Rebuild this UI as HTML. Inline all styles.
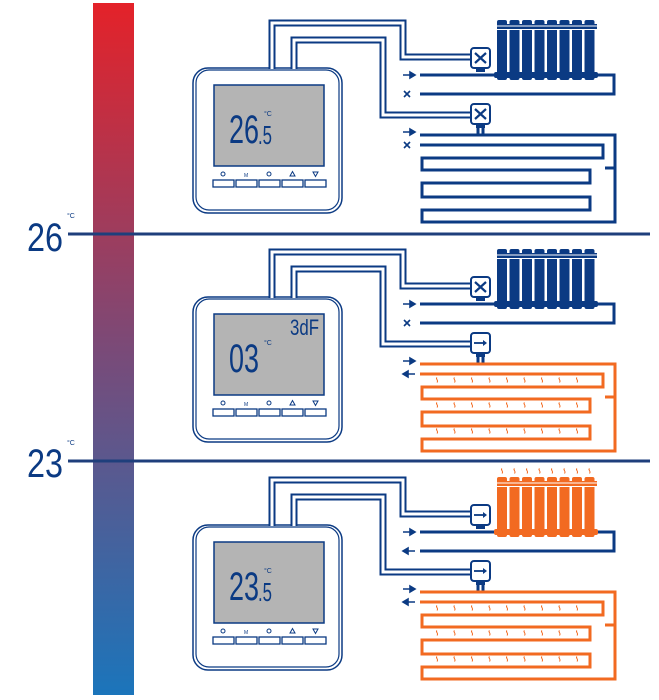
<!DOCTYPE html>
<html><head><meta charset="utf-8"><style>
html,body{margin:0;padding:0;background:#fff;}
svg{display:block;}
text{font-family:"Liberation Sans",sans-serif;}
</style></head><body>
<svg width="659" height="700" viewBox="0 0 659 700" xmlns="http://www.w3.org/2000/svg">
<defs>
<linearGradient id="bar" x1="0" y1="0" x2="0" y2="1">
<stop offset="0" stop-color="#e42229"/>
<stop offset="0.5" stop-color="#7a4a78"/>
<stop offset="1" stop-color="#1b75bb"/>
</linearGradient>
<g id="shell">
<rect x="193" y="68" width="149" height="145" rx="15" fill="#fff" stroke="#0b3a83" stroke-width="1.5"/>
<rect x="196" y="70" width="143" height="140" rx="13" fill="none" stroke="#0b3a83" stroke-width="1.2"/>
<rect x="214" y="85" width="110" height="81" fill="#b4b4b4" stroke="#0b3a83" stroke-width="1.5"/>
<g fill="#fff" stroke="#0b3a83" stroke-width="1.3">
<rect x="213" y="180" width="21" height="7"/><rect x="236" y="180" width="21" height="7"/><rect x="259" y="180" width="21" height="7"/><rect x="282" y="180" width="21" height="7"/><rect x="305" y="180" width="21" height="7"/>
</g>
<g fill="none" stroke="#0b3a83" stroke-width="1">
<circle cx="223" cy="174" r="2"/><circle cx="269" cy="174" r="2"/>
<path d="M290,176 L292.5,171.5 L295,176 Z"/><path d="M313,172 L315.5,176.5 L318,172 Z"/>
</g>
<text x="244" y="177" font-size="5" fill="#0b3a83">M</text>
<path d="M272,69 V23 H403 V57 H471 M294,69 V40 H383 V115 H471" fill="none" stroke="#0b3a83" stroke-width="7"/>
<path d="M272,69 V23 H403 V57 H471 M294,69 V40 H383 V115 H471" fill="none" stroke="#fff" stroke-width="3"/>
</g>
<g id="radfins">
<path d="M497,24 H597 V30 H497 Z"/>
<g>
<rect x="497" y="20" width="10" height="60" rx="2"/><rect x="509.5" y="20" width="10" height="60" rx="2"/><rect x="522" y="20" width="10" height="60" rx="2"/><rect x="534.5" y="20" width="10" height="60" rx="2"/><rect x="547" y="20" width="10" height="60" rx="2"/><rect x="559.5" y="20" width="10" height="60" rx="2"/><rect x="572" y="20" width="10" height="60" rx="2"/><rect x="584.5" y="20" width="10" height="60" rx="2"/>
<rect x="494" y="72" width="104" height="6" rx="2"/>
</g>
</g>
<g id="radlines"><path d="M495,26 H599 M495,29.5 H599" stroke="#fff" stroke-width="1"/></g>
<g id="valveX">
<rect x="476" y="67" width="9" height="5" fill="#0b3a83"/>
<rect x="471" y="48" width="19" height="20" rx="3" fill="#fff" stroke="#0b3a83" stroke-width="2"/>
<path d="M475,53 L486,63 M486,53 L475,63" stroke="#0b3a83" stroke-width="2.2"/>
</g>
<g id="valveA">
<rect x="476" y="67" width="9" height="5" fill="#0b3a83"/>
<rect x="471" y="48" width="19" height="20" rx="3" fill="#fff" stroke="#0b3a83" stroke-width="2"/>
<path d="M474,58 H485" stroke="#0b3a83" stroke-width="1.8"/><path d="M483,55 L487,58 L483,61 Z" fill="#0b3a83"/>
</g>
<path id="floorpath" d="M420,135 H615 V168 M420,145 H603 V158 H422 V170 H590 V183 H422 V197 H590 V210 H422 V222 H615 V168 H605" fill="none" stroke-width="3"/>
<path id="sq" d="M437,148.5 c-2,1.5 2,2.5 0,5" fill="none" stroke="#f26a21" stroke-width="1"/>
<path id="rarr" d="M403,75 H412 M410,72 L415,75 L410,78 Z" stroke="#0b3a83" stroke-width="1.6" fill="#0b3a83"/>
<g id="sqrows">
<use href="#sq"/><use href="#sq" x="17.5"/><use href="#sq" x="35"/><use href="#sq" x="52.5"/><use href="#sq" x="70"/><use href="#sq" x="87.5"/><use href="#sq" x="105"/><use href="#sq" x="122.5"/><use href="#sq" x="140"/>
</g>
</defs>

<rect x="93" y="3" width="41" height="692" fill="url(#bar)"/>
<path d="M68,234 H650 M68,461 H650" stroke="#1f3f7c" stroke-width="3"/>
<text x="27" y="251" font-size="40" fill="#0b3a83" textLength="36" lengthAdjust="spacingAndGlyphs">26</text>
<text x="67" y="218" font-size="7" fill="#0b3a83">°C</text>
<text x="27" y="477" font-size="40" fill="#0b3a83" textLength="36" lengthAdjust="spacingAndGlyphs">23</text>
<text x="67" y="445" font-size="7" fill="#0b3a83">°C</text>

<!-- SECTION 1 -->
<g>
<use href="#shell"/>
<text x="229" y="143" font-size="40" fill="#0b3a83" textLength="30" lengthAdjust="spacingAndGlyphs">26</text>
<text x="258" y="144" font-size="26" fill="#0b3a83" textLength="14" lengthAdjust="spacingAndGlyphs">.5</text>
<text x="264" y="116" font-size="7" fill="#0b3a83">°C</text>
<g fill="#0b3a83"><use href="#radfins"/></g><use href="#radlines"/>
<path d="M420,75 H497 M420,94 H614 V75 H597" fill="none" stroke="#0b3a83" stroke-width="3"/>
<use href="#valveX"/>
<use href="#valveX" y="56"/>
<path d="M478,128 V135 M483,128 V135" stroke="#0b3a83" stroke-width="3"/>
<use href="#floorpath" stroke="#0b3a83"/>
<use href="#rarr"/>
<path d="M404,91 L410,97 M410,91 L404,97" stroke="#0b3a83" stroke-width="1.6"/>
<use href="#rarr" y="57"/>
<path d="M404,142 L410,148 M410,142 L404,148" stroke="#0b3a83" stroke-width="1.6"/>
</g>

<!-- SECTION 2 -->
<g transform="translate(0,229)">
<use href="#shell"/>
<text x="229" y="143" font-size="40" fill="#0b3a83" textLength="30" lengthAdjust="spacingAndGlyphs">03</text>
<text x="264" y="116" font-size="7" fill="#0b3a83">°C</text>
<text x="290" y="106" font-size="22" fill="#0b3a83" textLength="29" lengthAdjust="spacingAndGlyphs">3dF</text>
<g fill="#0b3a83"><use href="#radfins"/></g><use href="#radlines"/>
<path d="M420,75 H497 M420,94 H614 V75 H597" fill="none" stroke="#0b3a83" stroke-width="3"/>
<use href="#valveX"/>
<use href="#valveA" y="56"/>
<path d="M478,128 V135 M483,128 V135" stroke="#0b3a83" stroke-width="3"/>
<use href="#floorpath" stroke="#f26a21"/>
<use href="#rarr"/>
<path d="M404,91 L410,97 M410,91 L404,97" stroke="#0b3a83" stroke-width="1.6"/>
<use href="#rarr" y="57"/>
<path d="M405,145 H415 M408,142 L403,145 L408,148 Z" stroke="#0b3a83" stroke-width="1.6" fill="#0b3a83"/>
<use href="#sqrows"/><use href="#sqrows" y="25"/><use href="#sqrows" y="51"/>
</g>

<!-- SECTION 3 -->
<g transform="translate(0,457)">
<use href="#shell"/>
<text x="229" y="143" font-size="40" fill="#0b3a83" textLength="30" lengthAdjust="spacingAndGlyphs">23</text>
<text x="258" y="144" font-size="26" fill="#0b3a83" textLength="14" lengthAdjust="spacingAndGlyphs">.5</text>
<text x="264" y="116" font-size="7" fill="#0b3a83">°C</text>
<path d="M420,75 H497 M420,94 H614 V75 H597" fill="none" stroke="#0b3a83" stroke-width="3"/>
<g fill="#f26a21"><use href="#radfins"/></g><use href="#radlines"/>
<use href="#sq" x="65" y="-137"/><use href="#sq" x="77.5" y="-137"/><use href="#sq" x="90" y="-137"/><use href="#sq" x="102.5" y="-137"/><use href="#sq" x="115" y="-137"/><use href="#sq" x="127.5" y="-137"/><use href="#sq" x="140" y="-137"/><use href="#sq" x="152.5" y="-137"/>
<use href="#valveA"/>
<use href="#valveA" y="56"/>
<path d="M478,128 V135 M483,128 V135" stroke="#0b3a83" stroke-width="3"/>
<use href="#floorpath" stroke="#f26a21"/>
<use href="#rarr"/>
<path d="M405,94 H415 M408,91 L403,94 L408,97 Z" stroke="#0b3a83" stroke-width="1.6" fill="#0b3a83"/>
<use href="#rarr" y="57"/>
<path d="M405,145 H415 M408,142 L403,145 L408,148 Z" stroke="#0b3a83" stroke-width="1.6" fill="#0b3a83"/>
<use href="#sqrows"/><use href="#sqrows" y="25"/><use href="#sqrows" y="51"/>
</g>
</svg>
</body></html>
